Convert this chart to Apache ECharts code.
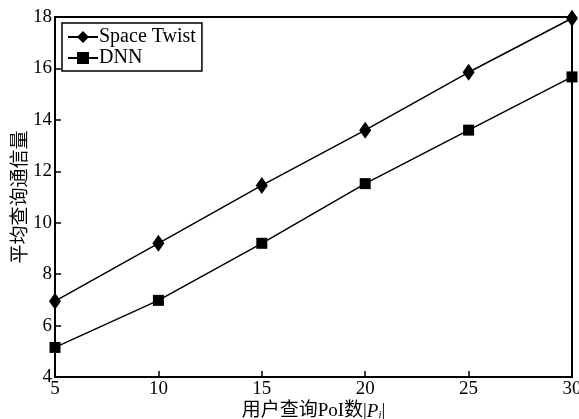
<!DOCTYPE html>
<html>
<head>
<meta charset="utf-8">
<script src="https://cdn.jsdelivr.net/npm/echarts@6/dist/echarts.min.js"></script>
<style>
  html, body { margin: 0; padding: 0; background: #fff; }
  #main { width: 579px; height: 419px; }
</style>
</head>
<body>
<div id="main"></div>
<script>
// 数据
var poiCounts = [5, 10, 15, 20, 25, 30];
var spaceTwist = [6.95, 9.2, 11.45, 13.6, 15.85, 17.95];
var dnn = [5.15, 6.98, 9.2, 11.52, 13.6, 15.67];
var seriesNames = ['Space Twist', 'DNN'];

var font = '"Liberation Serif", "Noto Sans CJK SC", serif';

function pairs(xs, ys) {
    var out = [];
    for (var i = 0; i < xs.length; i++) {
        out.push([xs[i], ys[i]]);
    }
    return out;
}

var myChart = echarts.init(document.getElementById('main'));

var option = {
    backgroundColor: '#fff',
    animation: false,
    grid: {
        left: 55, right: 7, top: 17, bottom: 42,
        outerBoundsMode: 'none',
        containLabel: false,
        show: true,
        borderColor: '#000',
        borderWidth: 2
    },
    legend: {
        orient: 'vertical',
        left: 62,
        top: 23,
        padding: [4, 6, 3, 5],
        itemGap: 1,
        itemWidth: 30,
        itemHeight: 15,
        borderColor: '#000',
        borderWidth: 1.5,
        data: seriesNames,
        textStyle: { fontFamily: font, fontSize: 20, color: '#000', padding: [0, 0, 0, -4] }
    },
    xAxis: {
        type: 'value',
        min: 5, max: 30, interval: 5,
        name: '用户查询PoI数|{it|P}{sub|i}|',
        nameLocation: 'middle',
        nameMoveOverlap: false,
        nameGap: 25,
        nameTextStyle: {
            fontFamily: font, fontSize: 19, color: '#000',
            rich: {
                it: { fontFamily: font, fontSize: 19, fontStyle: 'italic', color: '#000' },
                sub: { fontFamily: font, fontSize: 11, fontStyle: 'italic', color: '#000', verticalAlign: 'bottom', padding: [8, 0, 0, 0] }
            }
        },
        axisLine: { lineStyle: { color: '#000', width: 2 } },
        axisTick: { inside: true, length: 6, lineStyle: { color: '#000', width: 1.5 } },
        axisLabel: { fontFamily: font, fontSize: 19, color: '#000', margin: 3 },
        splitLine: { show: false }
    },
    yAxis: {
        type: 'value',
        min: 4, max: 18, interval: 2,
        name: '平均查询通信量',
        nameLocation: 'middle',
        nameMoveOverlap: false,
        nameGap: 24,
        nameTextStyle: { fontFamily: font, fontSize: 19, color: '#000' },
        axisLine: { lineStyle: { color: '#000', width: 2 } },
        axisTick: { inside: true, length: 6, lineStyle: { color: '#000', width: 1.5 } },
        axisLabel: { fontFamily: font, fontSize: 19, color: '#000', margin: 3 },
        splitLine: { show: false }
    },
    series: [
        {
            name: seriesNames[0],
            type: 'line',
            symbol: 'diamond',
            symbolSize: [12, 17],
            itemStyle: { color: '#000' },
            lineStyle: { color: '#000', width: 1.5 },
            data: pairs(poiCounts, spaceTwist)
        },
        {
            name: seriesNames[1],
            type: 'line',
            symbol: 'rect',
            symbolSize: 11,
            itemStyle: { color: '#000' },
            lineStyle: { color: '#000', width: 1.5 },
            data: pairs(poiCounts, dnn)
        }
    ]
};

myChart.setOption(option);
</script>
</body>
</html>
